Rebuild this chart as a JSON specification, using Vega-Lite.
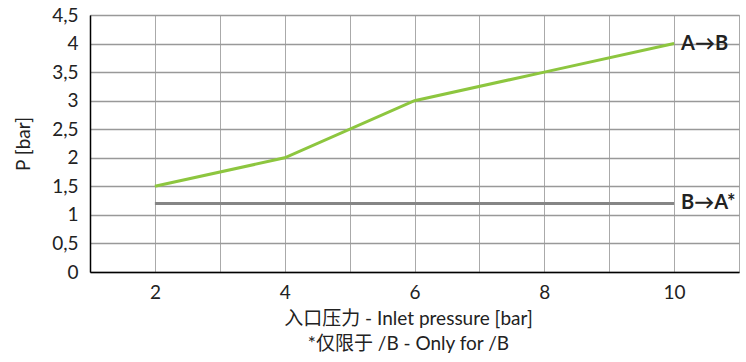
{
  "$schema": "https://vega.github.io/schema/vega-lite/v6.json",
  "width": 649,
  "height": 257,
  "autosize": {"type": "none"},
  "padding": {"left": 90, "top": 15, "right": 7, "bottom": 90},
  "config": {
    "view": {"stroke": "#aaaaaa", "strokeWidth": 1},
    "font": "Lato",
    "axis": {"gridColor": "#aaaaaa", "gridWidth": 1, "gridOpacity": 1}
  },
  "datasets": {
    "lines": [
      {"x": 2, "p": 1.5, "s": "A→B"},
      {"x": 4, "p": 2, "s": "A→B"},
      {"x": 6, "p": 3, "s": "A→B"},
      {"x": 8, "p": 3.5, "s": "A→B"},
      {"x": 10, "p": 4, "s": "A→B"},
      {"x": 2, "p": 1.2, "s": "B→A*"},
      {"x": 10, "p": 1.2, "s": "B→A*"}
    ],
    "labels": [
      {"x": 10, "p": 4, "s": "A→B"},
      {"x": 10, "p": 1.2, "s": "B→A*"}
    ]
  },
  "encoding": {
    "x": {
      "field": "x", "type": "quantitative",
      "scale": {"domain": [1, 11], "nice": false, "zero": false},
      "axis": {
        "grid": true,
        "values": [1, 2, 3, 4, 5, 6, 7, 8, 9, 10, 11],
        "format": "d",
        "labelExpr": "datum.value % 2 == 0 ? datum.label : ''",
        "labelOverlap": false,
        "ticks": false,
        "labelFontSize": 19,
        "labelColor": "#222222",
        "labelPadding": 11,
        "domainColor": "#000000",
        "domainWidth": 1.5,
        "title": ["入口压力 - Inlet pressure [bar]", "*仅限于 /B - Only for /B"],
        "titleFont": "Lato, Noto Sans CJK SC",
        "titleFontSize": 19,
        "titleFontWeight": "normal",
        "titleColor": "#222222",
        "titleLineHeight": 25,
        "titlePadding": 7,
        "titleX": 318
      }
    },
    "y": {
      "field": "p", "type": "quantitative",
      "scale": {"domain": [0, 4.5], "nice": false},
      "axis": {
        "grid": true,
        "gridColor": "#999999",
        "gridWidth": 1.3,
        "values": [0, 0.5, 1, 1.5, 2, 2.5, 3, 3.5, 4, 4.5],
        "labelExpr": "replace(toString(datum.value), '.', ',')",
        "labelOverlap": false,
        "ticks": false,
        "labelFontSize": 19,
        "labelColor": "#222222",
        "labelPadding": 12,
        "domainColor": "#000000",
        "domainWidth": 1.5,
        "title": "P [bar]",
        "titleFontSize": 19,
        "titleFontWeight": "normal",
        "titleColor": "#222222",
        "titlePadding": 18
      }
    }
  },
  "layer": [
    {
      "data": {"name": "lines"},
      "mark": {"type": "line", "strokeWidth": 3},
      "encoding": {
        "color": {
          "field": "s", "type": "nominal",
          "scale": {"domain": ["A→B", "B→A*"], "range": ["#8dc63f", "#858585"]},
          "legend": null
        }
      }
    },
    {
      "data": {"name": "labels"},
      "mark": {"type": "text", "align": "left", "baseline": "middle", "dx": 7, "fontSize": 20, "fontWeight": "bold", "color": "#222222"},
      "encoding": {
        "text": {"field": "s"}
      }
    }
  ]
}
